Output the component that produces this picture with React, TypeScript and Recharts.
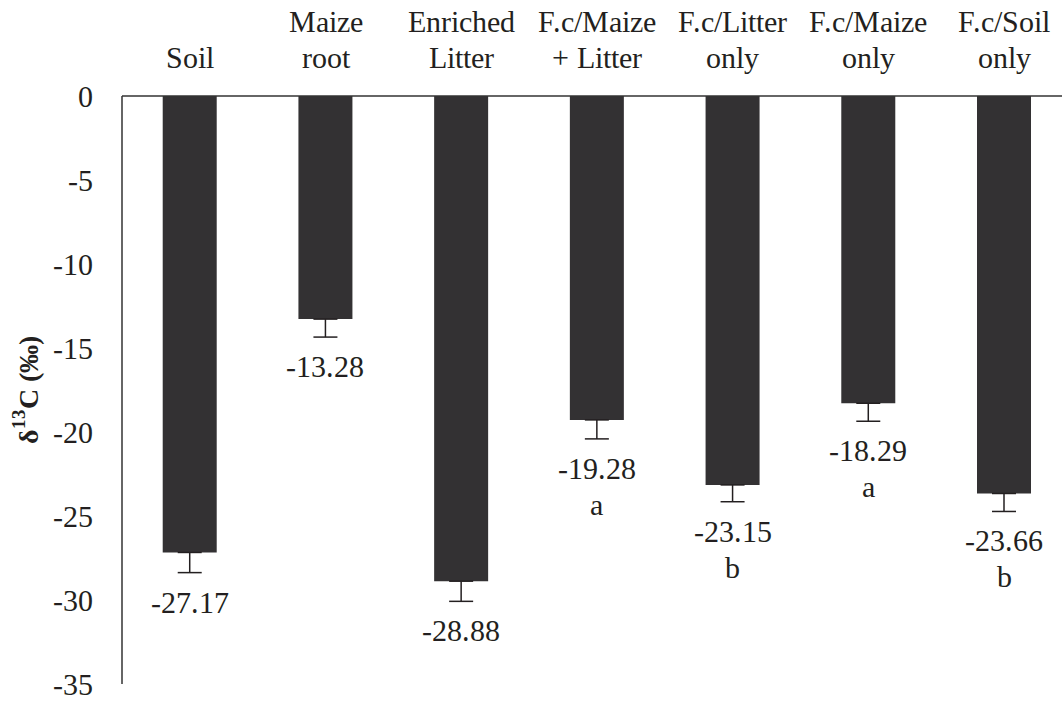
import React from "react";
import { BarChart, Bar, XAxis, YAxis, ErrorBar, LabelList } from "recharts";

const categories = [
  ["Soil"],
  ["Maize", "root"],
  ["Enriched", "Litter"],
  ["F.c/Maize", "+ Litter"],
  ["F.c/Litter", "only"],
  ["F.c/Maize", "only"],
  ["F.c/Soil", "only"],
];
const values = [-27.17, -13.28, -28.88, -19.28, -23.15, -18.29, -23.66];
const errors = [1.2, 1.07, 1.2, 1.13, 1.0, 1.07, 1.07];
const letters = ["", "", "", "a", "b", "a", "b"];
const yTicks = [0, -5, -10, -15, -20, -25, -30, -35];

const data = categories.map((c, i) => ({
  name: c.join("|"),
  value: values[i],
  err: [errors[i], 0],
}));

const FONT = "ChartSerif";
const TEXT = "#231f20";
const fs = { fontFamily: FONT };

const CatTick = (props: any) => {
  const { x, y, payload } = props;
  const lines: string[] = String(payload.value).split("|");
  const bases = lines.length === 1 ? [y - 28] : [y - 64, y - 28];
  return (
    <g>
      {lines.map((l, i) => (
        <text key={i} x={x} y={bases[i]} textAnchor="middle" style={fs} fontFamily={FONT} fontSize={30} fill={TEXT}>
          {l}
        </text>
      ))}
    </g>
  );
};

const YTick = (props: any) => {
  const { x, y, payload } = props;
  return (
    <text x={x} y={y} textAnchor="end" dominantBaseline="central" style={fs} fontFamily={FONT} fontSize={30} fill={TEXT}>
      {payload.value}
    </text>
  );
};

const ValueLabel = (props: any) => {
  const { x, y, width, height, value, index } = props;
  let idx = typeof index === "number" ? index : values.indexOf(value);
  if (idx < 0) idx = values.indexOf(value);
  const bottom = Math.max(y, y + height);
  const ppu = Math.abs(height) / Math.abs(value);
  const errEnd = bottom + errors[idx] * ppu;
  const cx = x + width / 2;
  return (
    <g>
      <text x={cx} y={errEnd + 40} textAnchor="middle" style={fs} fontFamily={FONT} fontSize={30} fill={TEXT}>
        {Number(value).toFixed(2)}
      </text>
      {letters[idx] ? (
        <text x={cx} y={errEnd + 76} textAnchor="middle" style={fs} fontFamily={FONT} fontSize={30} fill={TEXT}>
          {letters[idx]}
        </text>
      ) : null}
    </g>
  );
};

const YTitle = (props: any) => {
  const vb = props.viewBox || {};
  const cy = (vb.y || 96) + (vb.height || 588) / 2;
  const cx = 28;
  return (
    <text
      x={cx}
      y={cy}
      transform={`rotate(-90, ${cx}, ${cy})`}
      textAnchor="middle"
      dominantBaseline="central"
      style={fs}
      fontFamily={FONT}
      fontSize={28}
      fontWeight="bold"
      fill={TEXT}
    >
      δ<tspan fontSize={19} dy={-10}>13</tspan>
      <tspan dy={10}>C (‰)</tspan>
    </text>
  );
};

const css = `
@font-face { font-family: "ChartSerif"; src: local("Liberation Serif"), local("LiberationSerif"), local("Liberation Serif Regular"), local("LiberationSerif-Regular"); font-weight: 400; }
@font-face { font-family: "ChartSerif"; src: local("Liberation Serif Bold"), local("LiberationSerif-Bold"); font-weight: 700; }
`;

export default function App() {
  return (
    <div style={{ position: "absolute", left: 0, top: 0, width: 1062, height: 702, overflow: "hidden", background: "#fff" }}>
      <style>{css}</style>
      <BarChart
        width={1072}
        height={702}
        data={data}
        margin={{ top: 16, right: 0, bottom: 18, left: 0 }}
        barCategoryGap="30%"
      >
        <XAxis
          dataKey="name"
          orientation="top"
          height={80}
          tickLine={false}
          tickSize={0}
          tickMargin={0}
          axisLine={{ stroke: "#333", strokeWidth: 1.5 }}
          tick={<CatTick />}
          interval={0}
        />
        <YAxis
          type="number"
          domain={[-35, 0]}
          ticks={yTicks}
          width={122}
          tickLine={false}
          tickSize={0}
          tickMargin={29}
          axisLine={{ stroke: "#333", strokeWidth: 1.5 }}
          tick={<YTick />}
          label={<YTitle />}
        />
        <Bar dataKey="value" fill="#333133" isAnimationActive={false}>
          <ErrorBar dataKey="err" width={12} stroke={TEXT} strokeWidth={1.5} direction="y" />
          <LabelList dataKey="value" content={<ValueLabel />} />
        </Bar>
      </BarChart>
    </div>
  );
}
